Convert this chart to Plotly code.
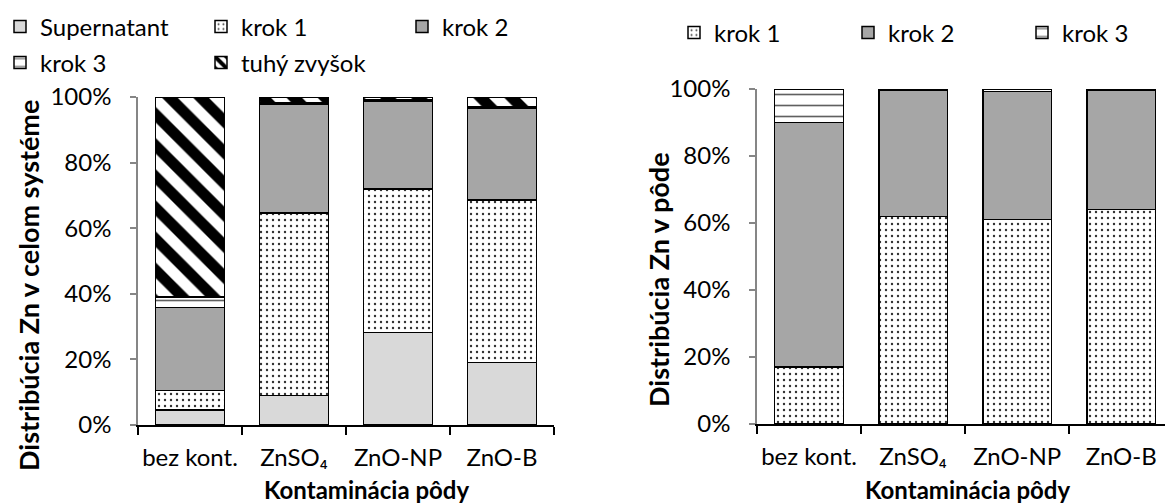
import plotly.graph_objects as go

# Data: distribution of Zn in the whole system and in the soil (%)
categories = ["bez kont.", "ZnSO₄", "ZnO-NP", "ZnO-B"]

system_supernatant = [4.5, 9.0, 28.2, 19.0]
system_krok1 = [6.0, 55.7, 43.8, 49.6]
system_krok2 = [25.3, 33.1, 26.8, 27.9]
system_krok3 = [3.2, 0.4, 0.4, 0.4]
system_residue = [61.0, 1.8, 0.8, 3.1]

soil_krok1 = [17.0, 62.0, 61.0, 64.0]
soil_krok2 = [73.0, 37.5, 38.2, 35.7]
soil_krok3 = [10.0, 0.5, 0.8, 0.3]

FONT = "Lato"
W, H = 1165, 504

def px_x(p):
    return p / W

def px_y(p):
    return 1 - p / H

line = dict(color="black", width=1.5)

style = {
    "Supernatant": dict(color="#d9d9d9", line=line),
    "krok 1": dict(color="white", line=line,
                   pattern=dict(shape=".", size=6, solidity=0.12, fgcolor="#303030",
                                bgcolor="white", fillmode="replace")),
    "krok 2": dict(color="#a6a6a6", line=line),
    "krok 3": dict(color="white", line=line,
                   pattern=dict(shape="-", size=11, solidity=0.15, fgcolor="#606060",
                                bgcolor="white", fillmode="replace")),
    "tuhý zvyšok": dict(color="white", line=line,
                        pattern=dict(shape="\\", size=22, solidity=0.5, fgcolor="black",
                                     bgcolor="white", fillmode="replace")),
}

fig = go.Figure()

left_series = [
    ("Supernatant", system_supernatant, "legend"),
    ("krok 1", system_krok1, "legend"),
    ("krok 2", system_krok2, "legend"),
    ("krok 3", system_krok3, "legend3"),
    ("tuhý zvyšok", system_residue, "legend3"),
]
for name, vals, leg in left_series:
    fig.add_trace(go.Bar(
        x=categories, y=[v / 100 for v in vals], name=name,
        marker=style[name], xaxis="x", yaxis="y", legend=leg,
    ))

right_series = [
    ("krok 1", soil_krok1),
    ("krok 2", soil_krok2),
    ("krok 3", soil_krok3),
]
for name, vals in right_series:
    fig.add_trace(go.Bar(
        x=categories, y=[v / 100 for v in vals], name=name,
        marker=style[name], xaxis="x2", yaxis="y2", legend="legend2",
    ))

tickfont = dict(family=FONT, size=24, color="black")

xaxis_common = dict(
    type="category", showline=True, linecolor="black", linewidth=1.5,
    ticks="outside", tickson="boundaries", ticklen=8, tickcolor="black", tickwidth=1.5,
    tickfont=tickfont, tickangle=0, showgrid=False, zeroline=False,
    ticklabelstandoff=10, automargin=False,
)
yaxis_common = dict(
    range=[0, 1], dtick=0.2, tickformat=".0%", showline=True,
    linecolor="#868686", linewidth=1.5, ticks="outside", ticklen=6,
    tickcolor="#868686", tickwidth=1.5, tickfont=tickfont, showgrid=False,
    zeroline=False, ticklabelstandoff=14, automargin=False,
)

legend_common = dict(
    orientation="h", font=dict(family=FONT, size=24, color="black"),
    bgcolor="rgba(0,0,0,0)", yanchor="middle", xanchor="left",
    entrywidthmode="pixels", traceorder="normal",
    itemclick=False, itemdoubleclick=False,
)

fig.update_layout(
    template="none",
    width=W, height=H, margin=dict(l=0, r=0, t=0, b=0, autoexpand=False),
    paper_bgcolor="white", plot_bgcolor="white",
    barmode="stack", bargap=0.34, showlegend=True,
    xaxis=dict(domain=[px_x(138), px_x(554)], range=[-0.5, 3.5], anchor="y", **xaxis_common),
    yaxis=dict(domain=[px_y(425), px_y(97)], anchor="x", **yaxis_common),
    xaxis2=dict(domain=[px_x(757), 1.0], range=[-0.5, 3.42], anchor="y2", **xaxis_common),
    yaxis2=dict(domain=[px_y(424), px_y(89)], anchor="x2", **yaxis_common),
    legend=dict(x=0.0, y=px_y(27), entrywidth=156, **legend_common),
    legend3=dict(x=0.0, y=px_y(63), entrywidth=156, **legend_common),
    legend2=dict(x=px_x(674), y=px_y(33), entrywidth=129, **legend_common),
)

annotations = [
    dict(text="<b>Distribúcia Zn v celom systéme</b>", x=px_x(28), y=px_y(286),
         textangle=-90, size=27),
    dict(text="<b>Distribúcia Zn v pôde</b>", x=px_x(658), y=px_y(280),
         textangle=-90, size=27),
    dict(text="<b>Kontaminácia pôdy</b>", x=px_x(366), y=px_y(489), textangle=0, size=24),
    dict(text="<b>Kontaminácia pôdy</b>", x=px_x(967), y=px_y(489), textangle=0, size=24),
]
for a in annotations:
    fig.add_annotation(xref="paper", yref="paper", showarrow=False,
                       xanchor="center", yanchor="middle", text=a["text"],
                       x=a["x"], y=a["y"], textangle=a["textangle"],
                       font=dict(family=FONT, size=a["size"], color="black"))

fig.write_html("out.html")
